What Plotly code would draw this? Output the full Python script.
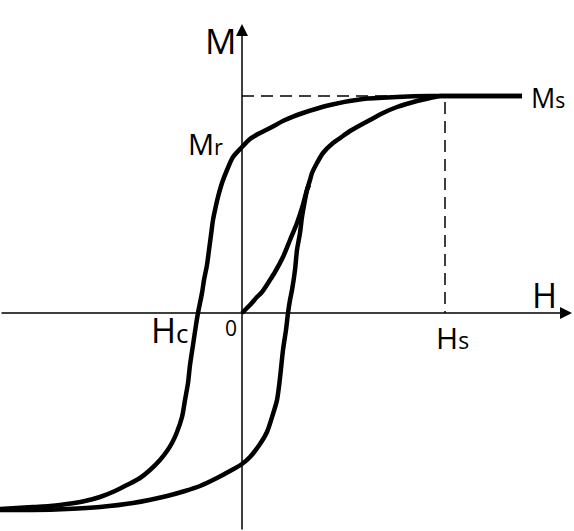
import plotly.graph_objects as go

# Descending (upper) branch of the hysteresis loop: H, M
upper_H = [280, 238, 203, 188, 155, 121, 88, 61, 43, 28, 16, 8, 0, -9, -15, -20, -24, -27, -29, -31, -33, -35, -38, -40, -44,
           -46, -49, -52, -54, -57, -60, -65, -70, -75, -82, -92, -102, -115, -127, -142, -157, -175, -192, -209, -242]
upper_M = [217, 217, 217, 217, 216, 214, 208, 200, 193, 185, 179, 174, 166, 156, 143, 130, 116, 103, 93, 78, 63, 48, 33, 20, 0,
           -12, -32, -52, -70, -87, -104, -119, -130, -138, -147, -157, -165, -172, -178, -184, -188, -191, -193, -194, -196]

# Ascending (lower) branch
lower_H = [-242, -209, -175, -142, -109, -75, -57, -42, -25, -12, 0, 8, 18, 25, 31, 35, 38, 41, 44, 46, 48, 50, 53, 55, 58, 60,
           63, 65, 68, 70, 75, 81, 91, 101, 108, 115, 128, 141, 155, 175, 188, 198, 203, 238, 280]
lower_M = [-197, -197, -196, -194, -190, -183, -178, -173, -165, -158, -151, -144, -131, -119, -101, -87, -65, -37, -17, 0, 13,
           23, 43, 63, 80, 96, 113, 123, 133, 140, 150, 160, 170, 177, 182, 186, 193, 200, 206, 212, 215, 217, 217, 217, 217]

# Initial magnetization curve
init_H = [0, 8, 15, 20, 28, 33, 41, 48, 55, 60, 65, 67]
init_M = [0, 8, 16, 21, 33, 41, 56, 73, 90, 105, 123, 128]

Ms = 217
Hs = 203

label_text = ["M", "Mr", "Ms", "H", "Hs", "Hc", "0"]
label_H = [-22, -37, 306, 302, 210, -72, -11]
label_M = [273, 170, 216, 18, -24, -17, -15]
label_size = [35, 29, 27, 34, 30, 34, 21]

fig = go.Figure()
line_style = dict(color="black", width=4.5, shape="spline", smoothing=0.8)
for hx, my in [(upper_H, upper_M), (lower_H, lower_M), (init_H, init_M)]:
    fig.add_trace(go.Scatter(x=hx, y=my, mode="lines", line=line_style,
                             hoverinfo="skip", showlegend=False))

# dashed guides
fig.add_trace(go.Scatter(x=[0, Hs, Hs], y=[Ms, Ms, 0], mode="lines",
                         line=dict(color="black", width=1.5, dash="12px,7px"),
                         hoverinfo="skip", showlegend=False))

# axes with arrows
fig.add_annotation(x=330, y=0, ax=-242, ay=0, xref="x", yref="y", axref="x", ayref="y",
                   showarrow=True, arrowhead=2, arrowsize=1.6, arrowwidth=1.5, arrowcolor="black", text="")
fig.add_annotation(x=0, y=289, ax=0, ay=-218, xref="x", yref="y", axref="x", ayref="y",
                   showarrow=True, arrowhead=2, arrowsize=1.6, arrowwidth=1.5, arrowcolor="black", text="")

for t, hx, my, s in zip(label_text, label_H, label_M, label_size):
    if len(t) == 2 and t != "0":
        txt = t[0] + f"<span style='font-size:{int(s*0.78)}px'>{t[1]}</span>"
    else:
        txt = t
    fig.add_annotation(x=hx, y=my, xref="x", yref="y", text=txt, showarrow=False,
                       xanchor="center", yanchor="middle",
                       font=dict(family="Open Sans", size=s, color="black"))

fig.update_layout(
    width=574, height=531,
    margin=dict(l=0, r=0, t=0, b=0, autoexpand=False),
    paper_bgcolor="white", plot_bgcolor="white",
    xaxis=dict(range=[-242, 332], visible=False, fixedrange=True),
    yaxis=dict(range=[-218, 313], visible=False, fixedrange=True),
)
fig.write_html("out.html", config={"displayModeBar": False},
               post_script="document.body.style.margin='0';document.body.style.overflow='hidden';")
